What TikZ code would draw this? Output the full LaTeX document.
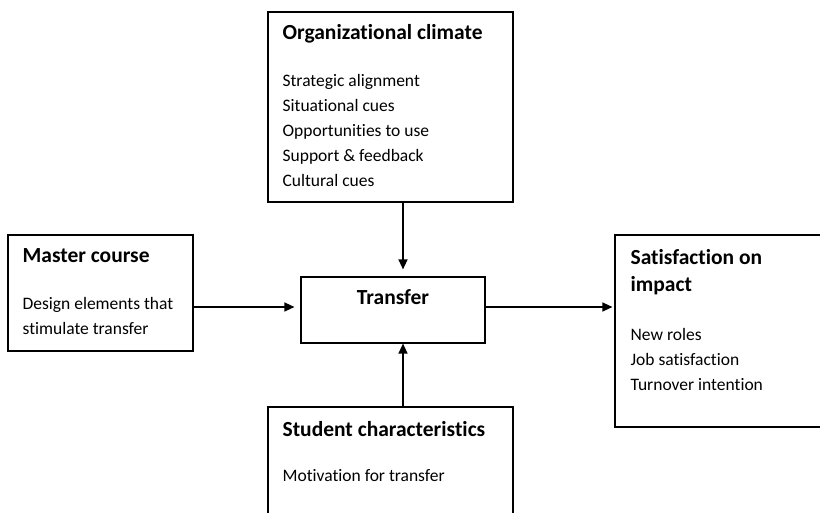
\documentclass[tikz,border=0pt]{standalone}
\usepackage{fontspec}
\setmainfont{Carlito}[Ligatures=NoCommon]
\usetikzlibrary{positioning,arrows.meta}

\begin{document}
\begin{tikzpicture}[x=1pt,y=-1pt,
  box/.style={draw, rectangle, line width=1.2pt, inner sep=0pt},
  txt/.style={anchor=base west, inner sep=0pt, font=\fontsize{17.5}{25}\selectfont},
  head/.style={font=\bfseries\fontsize{21.5}{25}\selectfont},
  arrow/.style={line width=1.3pt, -{Triangle[length=10pt,width=9pt]}}]
\useasboundingbox (0,0) rectangle (820,513);
\clip (0,0) rectangle (820,513);
% boxes
\node (org) [box, minimum width=245pt, minimum height=190pt] at (390.5,107) {};
\node (master) [box, minimum width=185pt, minimum height=116pt] at (100.5,293) {};
\node (transfer) [box, minimum width=184pt, minimum height=66pt] at (393,310) {};
\node (sat) [box, minimum width=215pt, minimum height=192pt] at (722.5,331) {};
\node (student) [box, minimum width=245pt, minimum height=123pt] at (390.5,468.5) {};
% texts
\node (orgtext) [txt] at ([xshift=15pt,yshift=-28pt]org.north west) {\begin{tabular}[t]{@{}l@{}}
  \bfseries\fontsize{21.5}{25}\selectfont Organizational climate\\[22pt]
  Strategic alignment\\ Situational cues\\ Opportunities to use\\ Support \& feedback\\ Cultural cues
  \end{tabular}};
\node (mastertext) [txt] at ([xshift=15pt,yshift=-28pt]master.north west) {\begin{tabular}[t]{@{}l@{}}
  \bfseries\fontsize{21.5}{25}\selectfont Master course\\[22pt]
  Design elements that\\ stimulate transfer
  \end{tabular}};
\node (transfertext) [txt, head, anchor=base] at ([yshift=-28pt]transfer.north) {Transfer};
\node (sattext) [txt] at ([xshift=16pt,yshift=-30pt]sat.north west) {\begin{tabular}[t]{@{}l@{}}
  \bfseries\fontsize{21.5}{25}\selectfont Satisfaction on\\[2pt]
  \bfseries\fontsize{21.5}{25}\selectfont impact\\[24pt]
  New roles\\ Job satisfaction\\ Turnover intention
  \end{tabular}};
\node (studenttext) [txt] at ([xshift=15pt,yshift=-30pt]student.north west) {\begin{tabular}[t]{@{}l@{}}
  \bfseries\fontsize{21.5}{25}\selectfont Student characteristics\\[20pt]
  Motivation for transfer
  \end{tabular}};
% arrows
\draw[arrow, shorten >=7pt] ([xshift=12.5pt]org.south) -- ([xshift=10pt]transfer.north);
\draw[arrow, shorten >=6pt] ([yshift=3pt]transfer.east -| master.east) -- ([yshift=3pt]transfer.west);
\draw[arrow, shorten >=2pt] ([yshift=3pt]transfer.east) -- ([yshift=3pt]transfer.east -| sat.west);
\draw[arrow] ([xshift=12.5pt]student.north) -- ([xshift=10pt]transfer.south);
\end{tikzpicture}
\end{document}
